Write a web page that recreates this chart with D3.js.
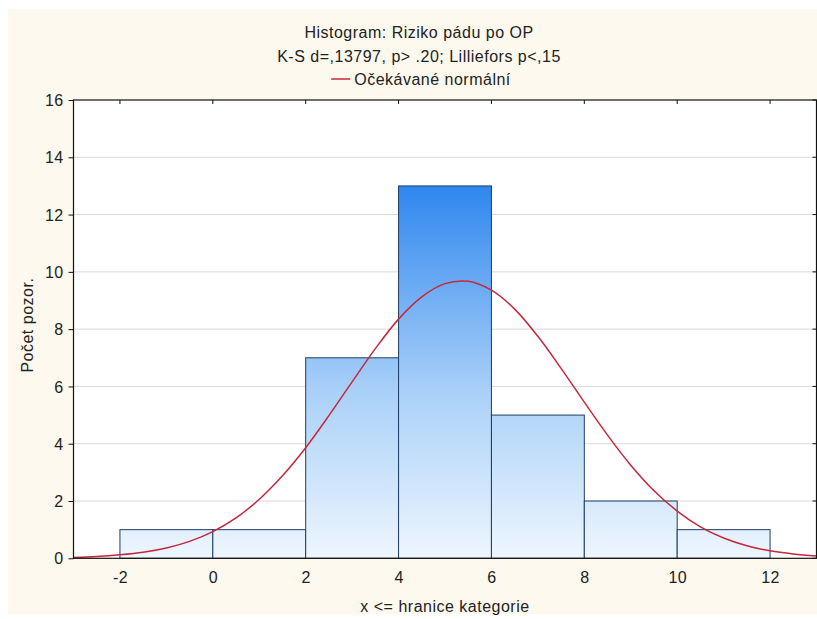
<!DOCTYPE html>
<html>
<head>
<meta charset="utf-8">
<script src="https://cdn.jsdelivr.net/npm/d3@7"></script>
<style>
  html, body { margin: 0; padding: 0; background: #ffffff; }
  svg { display: block; font-family: "Liberation Sans", Arial, sans-serif; }
  .lbl { font-size: 16px; letter-spacing: 0.5px; fill: #222; }
</style>
</head>
<body>
<svg id="chart" width="817" height="619"></svg>
<script>
// Histogram bins: lower edge, upper edge, count
const binStarts = [-2, 0, 2, 4, 6, 8, 10];
const binEnds   = [0, 2, 4, 6, 8, 10, 12];
const counts    = [1, 1, 7, 13, 5, 2, 1];

// Expected normal curve, sampled every half unit
const curveX = [-3, -2.5, -2, -1.5, -1, -0.5, 0, 0.5, 1, 1.5, 2, 2.5, 3, 3.5, 4, 4.5, 5,
                5.5, 6, 6.5, 7, 7.5, 8, 8.5, 9, 9.5, 10, 10.5, 11, 11.5, 12, 12.5, 13];
const curveY = [0.03, 0.06, 0.12, 0.21, 0.36, 0.59, 0.93, 1.41, 2.06, 2.88, 3.86, 4.98, 6.16,
                7.32, 8.35, 9.13, 9.59, 9.67, 9.36, 8.70, 7.75, 6.63, 5.45, 4.30, 3.25, 2.36,
                1.65, 1.10, 0.71, 0.44, 0.26, 0.15, 0.08];

const xTicks = [-2, 0, 2, 4, 6, 8, 10, 12];
const yTicks = [0, 2, 4, 6, 8, 10, 12, 14, 16];

const titleLines = ["Histogram: Riziko pádu po OP", "K-S d=,13797, p> .20; Lilliefors p<,15"];
const legendLabel = "Očekávané normální";
const xTitle = "x <= hranice kategorie";
const yTitle = "Počet pozor.";

const W = 817, H = 619;
const plot = { left: 73.5, right: 816.5, top: 100, bottom: 558.3 };
const red = "#c4283c";

const svg = d3.select("#chart");

// panel background
svg.append("rect").attr("x", 8).attr("y", 9).attr("width", W - 8).attr("height", H - 14)
  .attr("fill", "#fdf9ef");

const x = d3.scaleLinear().domain([-3, 13]).range([plot.left, plot.right]);
const y = d3.scaleLinear().domain([0, 16]).range([plot.bottom, plot.top]);

// bar fill gradient, fixed to the value axis
const defs = svg.append("defs");
const grad = defs.append("linearGradient").attr("id", "barGrad")
  .attr("gradientUnits", "userSpaceOnUse")
  .attr("x1", 0).attr("x2", 0).attr("y1", y(0)).attr("y2", y(13));
grad.append("stop").attr("offset", "0%").attr("stop-color", "#eef6fe");
grad.append("stop").attr("offset", "45%").attr("stop-color", "#a9d0f8");
grad.append("stop").attr("offset", "100%").attr("stop-color", "#2f87ef");

// plot area
svg.append("rect").attr("x", plot.left).attr("y", plot.top)
  .attr("width", plot.right - plot.left).attr("height", plot.bottom - plot.top)
  .attr("fill", "#ffffff");

// horizontal grid
svg.append("g").selectAll("line").data(yTicks.filter(d => d > 0 && d < 16)).join("line")
  .attr("x1", plot.left).attr("x2", plot.right)
  .attr("y1", d => y(d)).attr("y2", d => y(d))
  .attr("stroke", "#d9d9d9").attr("stroke-width", 1);

// bars
svg.append("g").selectAll("rect").data(counts).join("rect")
  .attr("x", (d, i) => x(binStarts[i]))
  .attr("width", (d, i) => x(binEnds[i]) - x(binStarts[i]))
  .attr("y", d => y(d))
  .attr("height", d => y(0) - y(d))
  .attr("fill", "url(#barGrad)")
  .attr("stroke", "#1e3d66").attr("stroke-width", 1);

// expected normal curve
const pts = curveX.map((v, i) => [v, curveY[i]]);
svg.append("path").datum(pts)
  .attr("d", d3.line().x(d => x(d[0])).y(d => y(d[1])).curve(d3.curveCatmullRom))
  .attr("fill", "none").attr("stroke", red).attr("stroke-width", 1.5);

// frame
svg.append("rect").attr("x", plot.left).attr("y", plot.top)
  .attr("width", plot.right - plot.left).attr("height", plot.bottom - plot.top)
  .attr("fill", "none").attr("stroke", "#111").attr("stroke-width", 1.2);

// axes
const yAxis = d3.axisLeft(y).tickValues(yTicks).tickSize(5).tickPadding(5);
const gy = svg.append("g").attr("transform", `translate(${plot.left},0)`).call(yAxis);
gy.select(".domain").remove();
gy.selectAll("text").attr("class", "lbl").attr("font-size", null).attr("font-family", null)
  .attr("dy", "0.35em").style("letter-spacing", "0.3px");
gy.selectAll("line").attr("stroke", "#111");

const xAxis = d3.axisBottom(x).tickValues(xTicks).tickSize(0).tickPadding(13)
  .tickFormat(d3.format("d"));
const gx = svg.append("g").attr("transform", `translate(0,${plot.bottom})`).call(xAxis);
gx.select(".domain").remove();
gx.selectAll("text").attr("class", "lbl").attr("font-size", null).attr("font-family", null)
  .style("letter-spacing", "0.3px")
  .text(d => d < 0 ? "-" + Math.abs(d) : d);

// mirrored inner ticks on top and right
svg.append("g").selectAll("line").data(xTicks).join("line")
  .attr("x1", d => x(d)).attr("x2", d => x(d))
  .attr("y1", plot.top).attr("y2", plot.top + 4)
  .attr("stroke", "#111");
svg.append("g").selectAll("line").data(yTicks).join("line")
  .attr("x1", plot.right).attr("x2", plot.right - 4)
  .attr("y1", d => y(d)).attr("y2", d => y(d))
  .attr("stroke", "#111");

// titles
const cx = 419;
svg.append("text").attr("class", "lbl").attr("x", cx).attr("y", 38)
  .attr("text-anchor", "middle").text(titleLines[0]);
svg.append("text").attr("class", "lbl").attr("x", cx).attr("y", 62)
  .attr("text-anchor", "middle").text(titleLines[1]);

// legend: sample line + label, centred as a unit
const leg = svg.append("g");
const legText = leg.append("text").attr("class", "lbl").attr("x", 23).attr("y", 85)
  .text(legendLabel);
leg.append("line").attr("x1", 0).attr("x2", 19).attr("y1", 79).attr("y2", 79)
  .attr("stroke", red).attr("stroke-width", 1.5);
const legW = 23 + legText.node().getComputedTextLength();
leg.attr("transform", `translate(${421 - legW / 2},0)`);

// axis titles
svg.append("text").attr("class", "lbl").attr("x", (plot.left + plot.right) / 2).attr("y", 612)
  .attr("text-anchor", "middle").text(xTitle);
svg.append("text").attr("class", "lbl")
  .attr("transform", `translate(33,${(plot.top + plot.bottom) / 2 - 4}) rotate(-90)`)
  .attr("text-anchor", "middle").text(yTitle);
</script>
</body>
</html>
